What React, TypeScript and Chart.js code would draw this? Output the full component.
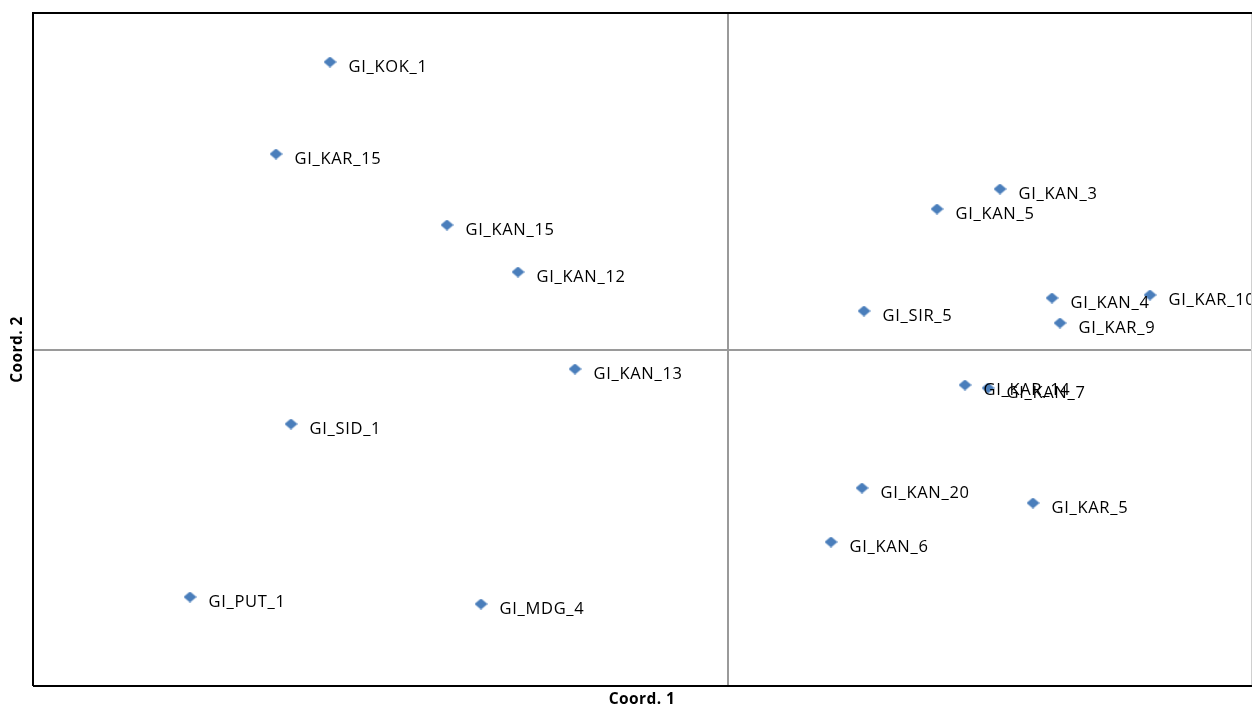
import React, { useEffect, useRef } from "react";
import { Chart, registerables } from "chart.js";

Chart.register(...registerables);

const pointLabels: string[] = [
  "GI_KOK_1", "GI_KAR_15", "GI_KAN_15", "GI_KAN_12", "GI_KAN_13", "GI_SID_1", "GI_PUT_1", "GI_MDG_4",
  "GI_KAN_3", "GI_KAN_5", "GI_KAN_4", "GI_KAR_10", "GI_SIR_5", "GI_KAR_9", "GI_KAR_14", "GI_KAN_7",
  "GI_KAN_20", "GI_KAR_5", "GI_KAN_6",
];
const coord1: number[] = [
  -0.398, -0.452, -0.281, -0.210, -0.153, -0.437, -0.538, -0.247,
  0.272, 0.209, 0.324, 0.422, 0.136, 0.332, 0.237, 0.260,
  0.134, 0.305, 0.103,
];
const coord2: number[] = [
  0.288, 0.196, 0.125, 0.078, -0.019, -0.074, -0.247, -0.254,
  0.161, 0.141, 0.052, 0.055, 0.039, 0.027, -0.035, -0.038,
  -0.138, -0.153, -0.192,
];
const xRange: number[] = [-0.695, 0.523];
const yRange: number[] = [-0.336, 0.337];
const xTitle = "Coord. 1";
const yTitle = "Coord. 2";

function makeDiamond(): HTMLCanvasElement {
  const c = document.createElement("canvas");
  c.width = 13;
  c.height = 11;
  const g = c.getContext("2d")!;
  g.fillStyle = "#4A7EBB";
  g.beginPath();
  g.moveTo(6.5, 0);
  g.lineTo(13, 5.5);
  g.lineTo(6.5, 11);
  g.lineTo(0, 5.5);
  g.closePath();
  g.fill();
  return c;
}

const framePlugin = {
  id: "frame",
  beforeDatasetsDraw(chart: any) {
    const { ctx, chartArea } = chart;
    const xs = chart.scales.x;
    const ys = chart.scales.y;
    ctx.save();
    ctx.strokeStyle = "#9a9a9a";
    ctx.lineWidth = 2;
    const x0 = Math.round(xs.getPixelForValue(0));
    const y0 = Math.round(ys.getPixelForValue(0));
    ctx.beginPath();
    ctx.moveTo(x0, chartArea.top);
    ctx.lineTo(x0, chartArea.bottom);
    ctx.moveTo(chartArea.left, y0);
    ctx.lineTo(chartArea.right, y0);
    ctx.stroke();
    ctx.strokeStyle = "#d0d0d0";
    ctx.lineWidth = 1;
    ctx.beginPath();
    ctx.moveTo(chartArea.right + 0.5, chartArea.top);
    ctx.lineTo(chartArea.right + 0.5, chartArea.bottom);
    ctx.stroke();
    ctx.strokeStyle = "#000000";
    ctx.lineWidth = 2;
    ctx.beginPath();
    ctx.moveTo(chartArea.left, chartArea.bottom);
    ctx.lineTo(chartArea.left, chartArea.top);
    ctx.lineTo(chartArea.right + 1, chartArea.top);
    ctx.moveTo(chartArea.left, chartArea.bottom);
    ctx.lineTo(chartArea.right + 1, chartArea.bottom);
    ctx.stroke();
    ctx.restore();
  },
  afterDatasetsDraw(chart: any) {
    const { ctx, chartArea } = chart;
    const meta = chart.getDatasetMeta(0);
    ctx.save();
    ctx.beginPath();
    ctx.rect(chartArea.left, chartArea.top, chartArea.right - chartArea.left, chartArea.bottom - chartArea.top);
    ctx.clip();
    ctx.fillStyle = "#000000";
    ctx.font = "16.5px 'Open Sans'";
    (ctx as any).letterSpacing = "0.7px";
    ctx.textAlign = "left";
    ctx.textBaseline = "alphabetic";
    meta.data.forEach((pt: any, i: number) => {
      ctx.fillText(pointLabels[i], pt.x + 18.5, pt.y + 9.5);
    });
    ctx.restore();
    ctx.save();
    ctx.fillStyle = "#000000";
    ctx.font = "bold 15.5px 'Open Sans'";
    (ctx as any).letterSpacing = "0.4px";
    ctx.textAlign = "center";
    ctx.textBaseline = "middle";
    ctx.fillText(xTitle, (chartArea.left + chartArea.right) / 2, 700);
    ctx.translate(18, (chartArea.top + chartArea.bottom) / 2);
    ctx.rotate(-Math.PI / 2);
    ctx.fillText(yTitle, 0, 0);
    ctx.restore();
  },
};

export default function App() {
  const ref = useRef<HTMLCanvasElement | null>(null);
  useEffect(() => {
    if (!ref.current) return;
    const diamond = makeDiamond();
    const chart = new Chart(ref.current, {
      type: "scatter",
      data: {
        datasets: [
          {
            data: coord1.map((x, i) => ({ x, y: coord2[i] })),
            pointStyle: diamond as any,
            pointRadius: 6,
            pointHoverRadius: 6,
          },
        ],
      },
      options: {
        animation: false,
        responsive: false,
        events: [],
        layout: { autoPadding: false, padding: { left: 33, top: 13, right: 1, bottom: 23 } },
        plugins: { legend: { display: false }, tooltip: { enabled: false } },
        scales: {
          x: { type: "linear", display: false, min: xRange[0], max: xRange[1] },
          y: { type: "linear", display: false, min: yRange[0], max: yRange[1] },
        },
      },
      plugins: [framePlugin],
    });
    return () => chart.destroy();
  }, []);
  return (
    <div style={{ position: "fixed", left: 0, top: 0, width: 1252, height: 709, overflow: "hidden", background: "#fff" }}>
      <canvas ref={ref} width={1252} height={709} style={{ display: "block", width: 1252, height: 709 }} />
    </div>
  );
}
